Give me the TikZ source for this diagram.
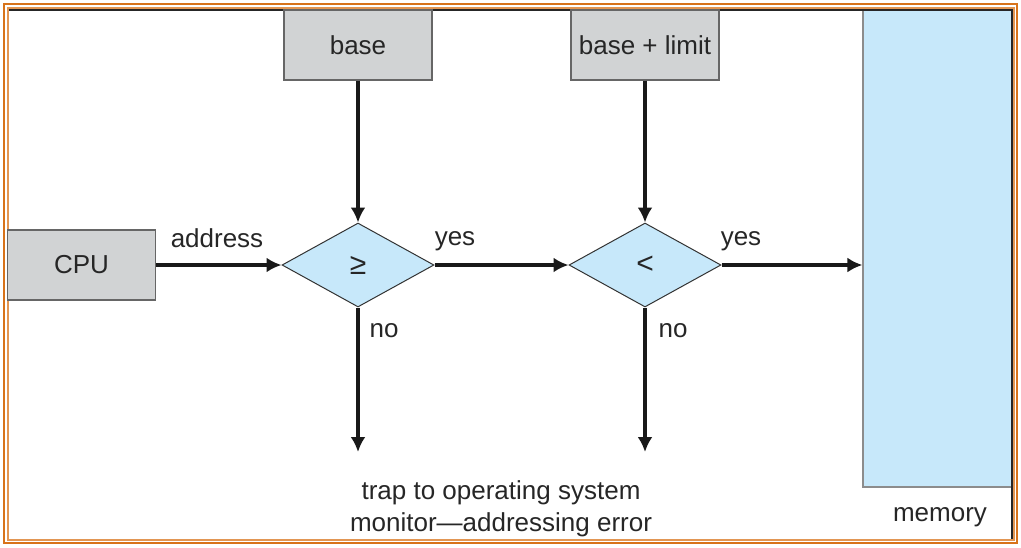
\documentclass[tikz,border=0pt]{standalone}
\usepackage{fontspec}
\setmainfont{Liberation Sans}
\usetikzlibrary{shapes.geometric, arrows.meta}

\definecolor{boxgray}{HTML}{D1D3D4}
\definecolor{memblue}{HTML}{C7E8FA}
\definecolor{frameorange}{HTML}{D8731A}

\begin{document}
\begin{tikzpicture}
		[
			x=0.5pt, y=-0.5pt,
			every node/.style={font=\fontsize{13}{16}\selectfont, text=black!85},
			reg/.style={rectangle, draw=black!60, line width=0.6pt, fill=boxgray, minimum width=74pt, minimum height=35pt, inner sep=0pt},
			test/.style={diamond, draw=black!80, line width=0.5pt, fill=memblue, minimum width=76pt, minimum height=42pt, inner sep=0pt, font=\fontsize{15}{18}\selectfont},
			mem/.style={rectangle, draw=black!45, line width=0.6pt, fill=memblue, minimum width=74.5pt, minimum height=238.5pt, inner sep=0pt},
			flow/.style={line width=1.6pt, black!90, -{Latex[length=7.5pt, width=7.5pt]}},
		]

		\useasboundingbox (0,0) rectangle (1021,547);

		% Memory
		\node[mem] (mem) at (937.5,248.5) {};

		% Frame
		\draw[black!85, line width=1pt] (8,10) -- (1012,10) -- (1012,539);
		\draw[frameorange, line width=1.2pt] (4,4) rectangle (1017,543);
		\draw[frameorange!75, line width=1pt] (7.5,7.5) rectangle (1013.5,539.5);

		% Nodes
		\foreach \style/\name/\x/\y/\text in
		{
			reg/base/358/45/base,
			reg/limit/645/45/base + limit,
			reg/cpu/81.5/265/CPU,
			test/ge/358/265/≥,
			test/lt/645/265/<
		}
			\node[\style] (\name) at (\x,\y) {\text};

		% Free ends
		\coordinate (trapge) at (358,452);
		\coordinate (traplt) at (645,452);

		% Labels
		\foreach \name/\x/\y/\text in
		{
			addr/217/238/address,
			yesge/455/241/yes,
			yeslt/741/241/yes,
			noge/384/331/no,
			nolt/673/331/no,
			memlbl/940/517/memory
		}
			\node (\name) at (\x,\y) {\text};

		\node[align=center] (trap) at (501,509) {trap to operating system\\monitor—addressing error};

		% Arrows
		\foreach \u/\v in
		{
			cpu.east/ge.west,
			ge.east/lt.west,
			base.south/ge.north,
			limit.south/lt.north,
			ge.south/trapge,
			lt.south/traplt}
			\draw[flow] (\u) -- (\v);

		\draw[flow] (lt.east) -- (lt.east -| mem.west);

		\end{tikzpicture}
\end{document}
